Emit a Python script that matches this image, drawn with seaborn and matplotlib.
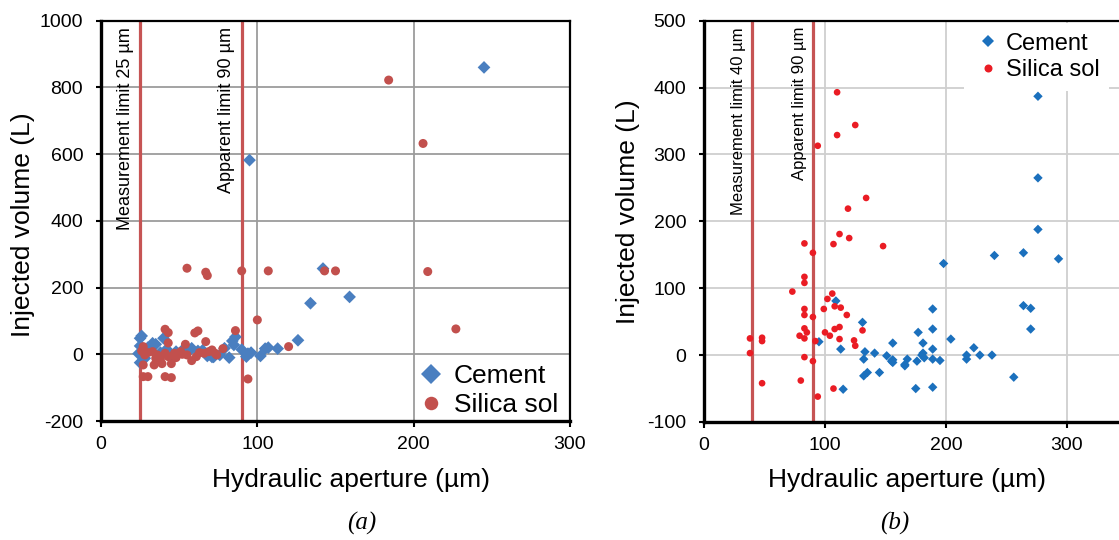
import pandas as pd
import matplotlib
matplotlib.use("Agg")
import matplotlib.pyplot as plt
import seaborn as sns

# ---- Panel (a): hydraulic aperture (µm) vs injected volume (L) ----
a_cement_x = [24, 25, 25, 25, 26, 27, 28, 30, 33, 35, 38, 40, 42, 45, 48, 52, 55, 58,
              62, 65, 68, 71, 72, 76, 79, 82, 84, 85, 86, 90, 93, 94, 96, 102, 105,
              107, 113, 126, 134, 142, 159, 95, 245]
a_cement_y = [2, 25, 48, -25, 55, 10, -12, 20, 33, 30, 5, 48, 15, -5, 8, 12, 5, 18,
              10, 12, -5, -8, -8, -2, 18, -10, 40, 28, 52, 14, -7, 2, 5, -5, 17,
              20, 17, 42, 153, 257, 172, 582, 860]
a_silica_x = [184, 206, 209, 227, 55, 67, 68, 90, 107, 143, 150, 100, 120, 94, 86,
              41, 43, 60, 62, 67, 54, 43, 78, 27, 30, 41, 45, 27, 34, 39, 45, 58,
              27, 28, 33, 36, 41, 47, 51, 55, 61, 66, 71, 74, 35, 43, 26, 30, 38,
              48, 52, 63, 69, 73]
a_silica_y = [822, 632, 248, 76, 258, 246, 236, 250, 250, 250, 250, 103, 23, -74, 71,
              75, 65, 64, 70, 38, 30, 34, 17, -67, -67, -67, -70, -32, -32, -28, -28, -19,
              23, -2, 8, -2, 3, 3, 8, -2, -7, 3, 13, -2, -12, -7, 10, 5, -15,
              -10, 0, 5, 8, 3]
a_limits = [25, 90]
a_limit_labels = ["Measurement limit 25 µm", "Apparent limit 90 µm"]

# ---- Panel (b) ----
b_cement_x = [276, 276, 276, 264, 240, 293, 198, 264, 270, 270, 189, 189, 189, 189, 189,
              175, 177, 181, 204, 223, 217, 217, 228, 238, 256, 195, 180, 181, 182, 176,
              168, 166, 166, 156, 156, 155, 156, 151, 141, 145, 135, 132, 133, 132, 131,
              109, 113, 95, 115]
b_cement_y = [387, 265, 188, 153, 149, 144, 137, 74, 70, 39, 69, 39, 9, -6, -48,
              -50, 34, 18, 24, 11, 0, -6, 0, 0, -33, -8, 0, 3, -4, -9,
              -6, -14, -16, 18, -7, -9, -11, -1, 3, -26, -26, -31, 5, -6, 49,
              81, 9, 20, -51]
b_silica_x = [110, 125, 110, 94, 134, 119, 112, 120, 107, 148, 83, 90, 83, 83, 73, 106,
              102, 108, 113, 99, 83, 118, 83, 90, 131, 112, 108, 100, 104, 112, 83, 85,
              79, 83, 92, 124, 125, 38, 48, 48, 38, 48, 80, 83, 90, 107, 94]
b_silica_y = [393, 344, 329, 313, 235, 219, 181, 175, 166, 163, 167, 153, 117, 108, 95, 92,
              84, 73, 71, 69, 69, 60, 60, 57, 37, 42, 39, 34, 29, 24, 40, 34,
              29, 25, 21, 22, 14, 25, 26, 21, 3, -42, -38, -3, -9, -50, -62]
b_limits = [40, 90]
b_limit_labels = ["Measurement limit 40 µm", "Apparent limit 90 µm"]

materials = ["Cement", "Silica sol"]


def frame(xc, yc, xs, ys):
    return pd.DataFrame({
        "aperture": list(xc) + list(xs),
        "volume": list(yc) + list(ys),
        "material": [materials[0]] * len(xc) + [materials[1]] * len(xs),
    })


df_a = frame(a_cement_x, a_cement_y, a_silica_x, a_silica_y)
df_b = frame(b_cement_x, b_cement_y, b_silica_x, b_silica_y)

sns.set_style("white")
plt.rcParams["font.family"] = ["Liberation Sans", "DejaVu Sans"]
plt.rcParams["axes.unicode_minus"] = False
plt.rcParams["text.color"] = "black"
plt.rcParams["axes.labelcolor"] = "black"
plt.rcParams["xtick.color"] = "black"
plt.rcParams["ytick.color"] = "black"

W, H = 1119, 540
fig = plt.figure(figsize=(W / 100, H / 100), dpi=100)


def px_axes(x0, x1, y0, y1):
    return fig.add_axes([x0 / W, 1 - y1 / H, (x1 - x0) / W, (y1 - y0) / H])


line_color = "#c65454"


def panel(ax, df, palette, size, grid_color, limits, limit_labels, limit_fs,
          xlim, ylim, yticks, spines_full):
    ax.set_axisbelow(True)
    ax.grid(True, color=grid_color, lw=1.3)
    for v in limits:
        ax.axvline(v, color=line_color, lw=2.3, zorder=2)
    for v, lab in zip(limits, limit_labels):
        ax.annotate(lab, xy=(v, 1), xycoords=("data", "axes fraction"),
                    xytext=(-4.5, -4.5), textcoords="offset points",
                    rotation=90, ha="right", va="top", fontsize=limit_fs,
                    color="black")
    sns.scatterplot(data=df, x="aperture", y="volume", hue="material",
                    style="material", markers={"Cement": "D", "Silica sol": "o"},
                    palette=palette, s=size, linewidth=0, ax=ax, zorder=3)
    ax.set_xlim(*xlim)
    ax.set_ylim(*ylim)
    ax.set_xticks([0, 100, 200, 300])
    ax.set_yticks(yticks)
    ax.tick_params(axis="y", left=True, direction="out", length=3.8, width=1.5,
                   pad=9, labelsize=14, colors="black")
    ax.tick_params(axis="x", bottom=True, direction="out", length=4.5, width=1.5,
                   pad=6, labelsize=14, colors="black")
    for s in ["left", "bottom"]:
        ax.spines[s].set_color("black")
        ax.spines[s].set_linewidth(2.4)
    ax.spines["top"].set_color("black")
    ax.spines["top"].set_linewidth(1.6)
    ax.spines["right"].set_visible(spines_full)
    ax.spines["right"].set_color("black")
    ax.spines["right"].set_linewidth(1.6)
    ax.set_xlabel("Hydraulic aperture (µm)", fontsize=19, color="black")
    ax.set_ylabel("Injected volume (L)", fontsize=19, color="black")


# panel (a)
ax_a = px_axes(101, 570, 20.7, 421)
panel(ax_a, df_a, {"Cement": "#4a7fc0", "Silica sol": "#c2504d"}, 42, "#9c9c9c",
      a_limits, a_limit_labels, 13, (0, 300), (-200, 1000),
      [-200, 0, 200, 400, 600, 800, 1000], True)
ax_a.xaxis.set_label_coords((351.5 - 101) / 469, (421 - 468) / 400.3)
ax_a.yaxis.set_label_coords((35 - 101) / 469, (421 - 225) / 400.3)
h, l = ax_a.get_legend_handles_labels()
ax_a.legend(h, l, loc="lower right", bbox_to_anchor=(1.008, -0.03), frameon=False,
            fontsize=19, markerscale=1.5, handletextpad=0.15, labelspacing=0.2,
            borderaxespad=0.2, handlelength=1.4)

# panel (b)
ax_b = px_axes(704, 1127.5, 20.7, 422)
panel(ax_b, df_b, {"Cement": "#1b70bd", "Silica sol": "#ea1c24"}, 23, "#cfcfcf",
      b_limits, b_limit_labels, 12, (0, 350), (-100, 500),
      [-100, 0, 100, 200, 300, 400, 500], False)
ax_b.xaxis.set_label_coords((907 - 704) / 423.5, (422 - 468) / 401.3)
ax_b.yaxis.set_label_coords((640 - 704) / 423.5, (422 - 212) / 401.3)
h, l = ax_b.get_legend_handles_labels()
ax_b.legend(h, l, loc="upper left", bbox_to_anchor=((962 - 704) / 423.5, 1.0),
            frameon=True, facecolor="white", edgecolor="none", framealpha=1,
            fancybox=False, fontsize=17, markerscale=1.2, handletextpad=0.15,
            labelspacing=0.2, borderaxespad=0.1, handlelength=1.2)

# panel captions
cap_font = dict(family=["Liberation Serif", "DejaVu Serif"], style="italic", fontsize=18)
fig.text(362 / W, 1 - 523 / H, "(a)", ha="center", va="center", **cap_font)
fig.text(895 / W, 1 - 523 / H, "(b)", ha="center", va="center", **cap_font)

fig.savefig("out.png", dpi=100, facecolor="white")
